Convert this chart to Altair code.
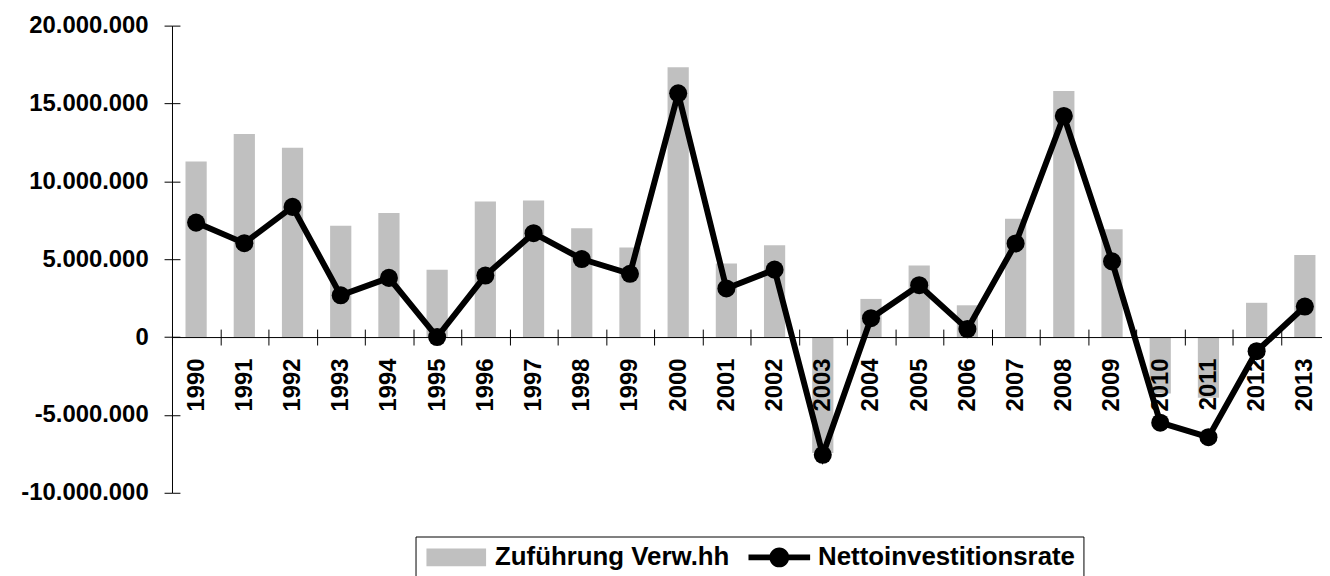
import altair as alt
import pandas as pd

years = [str(y) for y in range(1990, 2014)]
zufuehrung = [11270000, 13040000, 12150000, 7150000, 7960000, 4330000,
              8700000, 8770000, 6990000, 5750000, 17320000, 4730000,
              5900000, -7450000, 2450000, 4600000, 2040000, 7600000,
              15800000, 6920000, -3630000, -3900000, 2200000, 5270000]
netto = [7350000, 6030000, 8360000, 2680000, 3800000, 0,
         3950000, 6670000, 5010000, 4060000, 15650000, 3120000,
         4330000, -7560000, 1210000, 3330000, 510000, 6010000,
         14200000, 4860000, -5500000, -6430000, -910000, 1960000]
series_names = ["Zuführung Verw.hh", "Nettoinvestitionsrate"]
y_ticks = [-10000000, -5000000, 0, 5000000, 10000000, 15000000, 20000000]

df = pd.DataFrame({"Jahr": years, "Zufuehrung": zufuehrung, "Netto": netto})
legend_df = pd.DataFrame({"Serie": series_names})

FONT = "Liberation Sans"
H = 470
below_zero = H * 10 / 30  # distance from zero line to bottom of plot

xscale = alt.Scale(domain=years, range=[0, 1164], paddingInner=0, paddingOuter=0)
yscale = alt.Scale(domain=[-10000000, 20000000], nice=False, zero=False)

label_expr = "replace(replace(format(datum.value, ',.0f'), /,/g, '.'), '\u2212', '-')"

x_main = alt.Axis(title=None, orient="bottom", offset=-below_zero, tickBand="extent",
                  tickSize=8, tickColor="black", domainColor="black", domainWidth=1,
                  labelAngle=270, labelAlign="right", labelBaseline="middle",
                  labelPadding=13, labelFont=FONT, labelFontWeight="bold",
                  labelFontSize=24, labelColor="black", labelOverlap=False, grid=False,
                  zindex=1)
x_second = alt.Axis(title=None, orient="bottom", offset=-(below_zero + 8), tickBand="extent",
                    tickSize=8, tickColor="black", labels=False, domain=False, grid=False,
                    zindex=1)
y_main = alt.Axis(title=None, orient="left", values=y_ticks, tickSize=8, tickColor="black",
                  domainColor="black", labelPadding=16, labelExpr=label_expr,
                  labelFont=FONT, labelFontWeight="bold", labelFontSize=24,
                  labelColor="black", grid=False)
y_second = alt.Axis(title=None, orient="left", offset=-8, values=y_ticks, tickSize=8,
                    tickColor="black", labels=False, domain=False, grid=False)

bars = alt.Chart(df).mark_bar(color="#C0C0C0", width={"band": 0.44}).encode(
    x=alt.X("Jahr:N", scale=xscale, axis=x_main, sort=years),
    y=alt.Y("Zufuehrung:Q", scale=yscale, axis=y_main),
)
line = alt.Chart(df).mark_line(color="black", strokeWidth=6).encode(
    x=alt.X("Jahr:N", scale=xscale, axis=x_second, sort=years),
    y=alt.Y("Netto:Q", scale=yscale, axis=y_second),
)
points = alt.Chart(df).mark_circle(color="black", size=330, opacity=1).encode(
    x=alt.X("Jahr:N", scale=xscale, axis=None, sort=years),
    y=alt.Y("Netto:Q", scale=yscale, axis=None),
)

bar_sym = "M-3,-0.9H3V0.9H-3Z"
line_sym = "M-3.1,-0.3H3.1V0.3H-3.1Z M-1,0A1,1 0 1,1 1,0A1,1 0 1,1 -1,0Z"

def make_legend():
    return alt.Legend(title=None, orient="none", legendX=245, legendY=514,
                      direction="horizontal", strokeColor="black", fillColor="white",
                      padding=8, symbolSize=400, symbolStrokeWidth=0, symbolOffset=20,
                      labelOffset=26, labelFont=FONT, labelFontSize=26,
                      labelFontWeight="bold", labelColor="black", labelLimit=500,
                      columnPadding=17, cornerRadius=0)

legend_layer = alt.Chart(legend_df).mark_point(filled=True, opacity=1).encode(
    color=alt.Color("Serie:N", scale=alt.Scale(domain=series_names, range=["#C0C0C0", "black"]),
                    legend=make_legend()),
    shape=alt.Shape("Serie:N", scale=alt.Scale(domain=series_names, range=[bar_sym, line_sym]),
                    legend=make_legend()),
).transform_filter("false")

chart = alt.layer(bars, line, points, legend_layer).resolve_axis(
    x="independent", y="independent"
).properties(
    width=1157, height=H,
    autosize=alt.AutoSizeParams(type="none"),
    padding={"left": 165, "top": 16, "right": 0, "bottom": 82},
    background="white",
).configure_view(stroke=None)

chart.save("out.html", embed_options={"renderer": "svg", "actions": False})
